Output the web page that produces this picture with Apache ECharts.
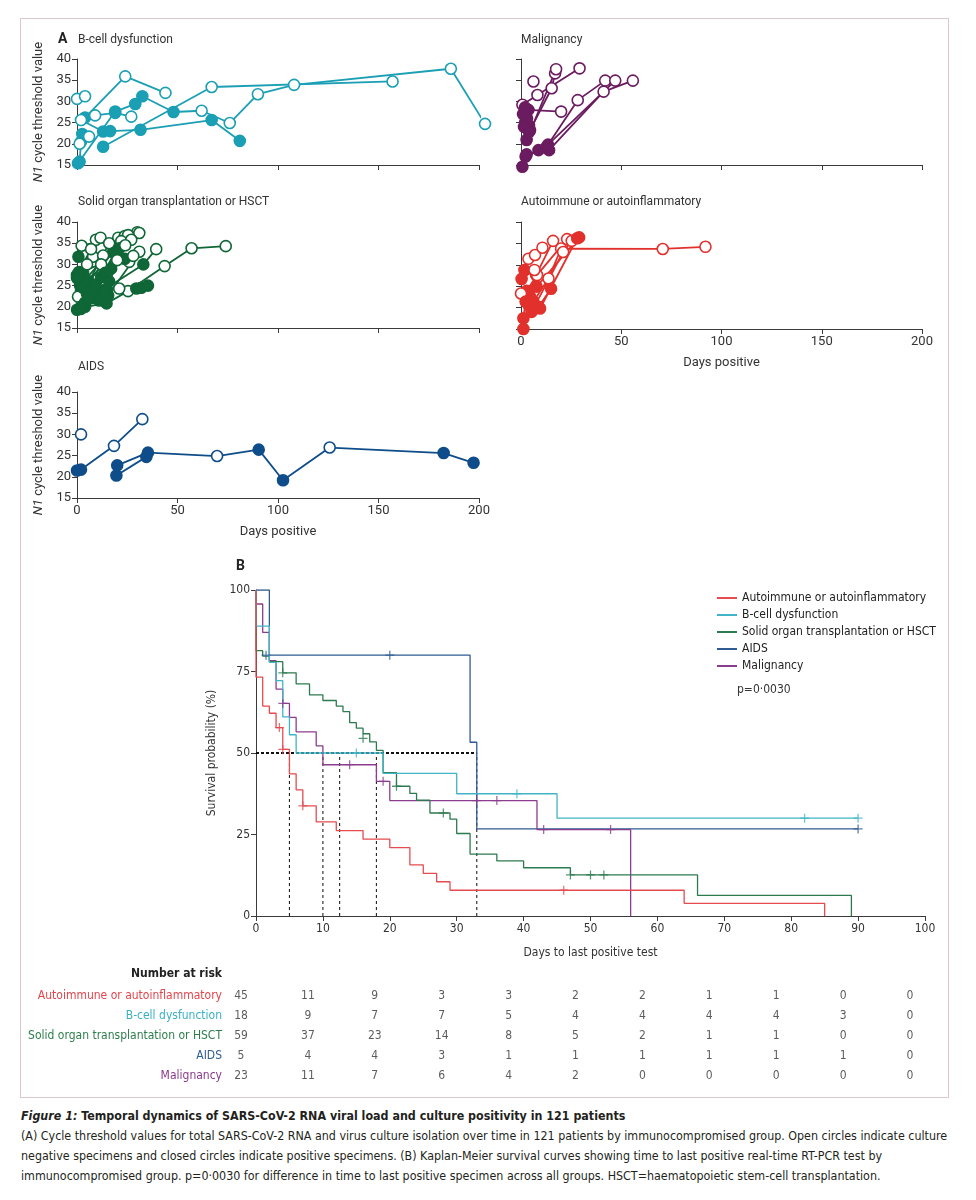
<!DOCTYPE html>
<html>
<head>
<meta charset="utf-8">
<script src="https://cdn.jsdelivr.net/npm/echarts@6/dist/echarts.min.js"></script>
<style>
  html, body { margin:0; padding:0; background:#fff; }
  #frame { position:absolute; left:20px; top:18px; width:929px; height:1080px; border:1px solid #dcc8ce; box-sizing:border-box; }
  #chart { position:absolute; left:0; top:0; width:976px; height:1100px; }
  #cap { position:absolute; left:21px; top:1106px; width:950px; color:#231f20;
         font-family:'Liberation Sans Narrow','DejaVu Sans Condensed','Noto Sans',sans-serif; font-size:15px; line-height:20px; white-space:nowrap; }
  #cap .t { font-weight:bold; }
</style>
</head>
<body>
<div id="frame"></div>
<div id="chart"></div>
<div id="cap">
  <div class="t"><i>Figure 1:</i> Temporal dynamics of SARS-CoV-2 RNA viral load and culture positivity in 121 patients</div>
  <div id="l1">(A) Cycle threshold values for total SARS-CoV-2 RNA and virus culture isolation over time in 121 patients by immunocompromised group. Open circles indicate culture</div>
  <div>negative specimens and closed circles indicate positive specimens. (B) Kaplan-Meier survival curves showing time to last positive real-time RT-PCR test by</div>
  <div>immunocompromised group. p=0·0030 for difference in time to last positive specimen across all groups. HSCT=haematopoietic stem-cell transplantation.</div>
</div>
<script>
// ---------- Panel A data: each patient = list of [day, N1 Ct, culturePositive(1)/negative(0)] ----------
const bcellPatients = [
  [[0,30.6,0]],
  [[4,31.2,0]],
  [[4,26.2,1],[24,35.9,0],[44,32.0,0]],
  [[9,26.7,0],[19,27.3,1],[27,26.4,0]],
  [[2,25.6,0],[13,22.9,1],[16.5,23.0,1],[31.6,23.3,1],[67,25.6,1],[81,20.7,1]],
  [[0.5,15.4,1],[19,27.6,1],[29,29.4,1],[32.5,31.2,1],[48,27.5,1],[62,27.8,0],[76,24.9,0],[90,31.7,0],[108,33.9,0],[186,37.7,0],[203,24.7,0]],
  [[13,19.3,1],[67,33.4,0],[157,34.7,0]],
  [[1.3,15.8,1],[2,20.5,1],[2.6,22.3,1],[6,21.7,0]],
  [[1.3,20.0,0]]
];
const malignancyPatients = [
  [[0.7,29.2,0],[8.2,31.5,0],[29.2,37.8,0]],
  [[3.7,28.0,1],[20,27.6,0]],
  [[4.5,23.2,1],[15.3,33.1,0],[17,36.6,0]],
  [[6.2,34.7,0]],
  [[2.3,17.0,1],[8.7,18.5,1],[12.8,19.3,1],[28.3,30.3,0],[42,34.9,0]],
  [[0.7,14.6,1],[2.8,17.5,1],[14,18.5,1],[41.2,32.3,0],[55.8,34.9,0]],
  [[13.5,19.8,1],[47,34.9,0]],
  [[2.8,20.9,1],[17.5,37.6,0]],
  [[1,27.0,1],[2,25.0,1]],
  [[3,26.0,1],[4,24.2,1]],
  [[1.5,24.0,1],[4,22.8,1]],
  [[2,28.6,1]]
];
const sotPatients = [
  [[0,19.3,1],[4,20.0,1],[14.7,20.8,1],[25.4,23.7,0],[43.6,29.6,0],[57,33.8,0],[74,34.3,0]],
  [[21,24.3,0],[29.5,24.3,1],[32,24.5,1],[35.3,25.0,1]],
  [[13,23.9,1],[33,30.0,1],[39.4,33.6,0]],
  [[15.5,22.7,1],[31,33.0,0]],
  [[0.7,31.8,1],[2.3,34.4,0],[20.5,36.3,0]],
  [[0,27.5,1],[9.4,35.8,0]],
  [[1,26.3,1],[11.7,36.3,0]],
  [[1.5,25.1,1],[23.8,36.7,0],[30,37.6,0]],
  [[2,23.9,1],[20,34.0,1],[31,37.4,0]],
  [[5,25.5,1],[18,33.0,1],[26,30.6,0]],
  [[3,28.0,1],[8,31.8,0]],
  [[6,26.0,1],[16,35.0,0],[25.4,36.9,0]],
  [[0.5,22.4,0],[7,33.6,0]],
  [[10,24.0,1],[13,32.1,0]],
  [[4,21.0,1],[19,32.5,1],[23.8,31.3,1]],
  [[2,20.0,1],[12,27.0,1],[22,35.5,0]],
  [[7,22.0,1],[17,29.0,1],[28,32.0,0]],
  [[1,28.2,1],[12,30.0,0]],
  [[9,25.0,1],[21,33.8,1],[27,35.8,0]],
  [[3,24.5,1],[14,28.0,1],[24,34.5,0]],
  [[0,26.8,1],[5,30.0,0]],
  [[11,21.5,1],[16,26.0,1]],
  [[5,23.0,1],[15,24.0,1],[20,31.0,0]],
  [[8,23.5,1],[14,23.2,1]],
  [[2,19.5,1],[6,22.0,1]]
];
const autoimmunePatients = [
  [[1.7,28.8,1],[3.7,31.4,0],[7,32.3,0],[10.7,34.0,0]],
  [[4.5,22.6,1],[7.5,27.6,0],[16,35.6,0]],
  [[6.2,21.4,1],[13.7,26.8,0],[20,33.8,0],[70.7,33.7,0],[92,34.2,0]],
  [[8.7,20.2,1],[15,24.4,1]],
  [[2.8,23.9,1],[8,27.6,0],[23,36.0,0]],
  [[5.3,19.0,1],[21,33.0,0],[25.3,35.6,0]],
  [[3.7,20.6,1],[7.8,24.9,1],[29,36.4,1]],
  [[0,23.3,0]],
  [[0.3,26.7,1],[6.7,28.8,0]],
  [[1.2,17.5,1],[2.3,21.4,1]],
  [[1.2,15.0,1]],
  [[9.5,19.8,1],[28,36.2,1]]
];
const aidsPatients = [
  [[2,30.0,0]],
  [[0,21.5,1],[2,21.7,1],[18.4,27.3,0],[32.5,33.6,0]],
  [[19.6,20.3,1],[34.5,24.7,1]],
  [[20,22.7,1],[35.3,25.7,1],[69.7,24.9,0],[90.4,26.4,1],[102.5,19.2,1],[125.7,26.9,0],[182.4,25.6,1],[197.3,23.3,1]]
];

// ---------- Panel B data: Kaplan-Meier steps [day, survival %] and censor marks ----------
const kmAutoimmune = [[0,100],[0,73.3],[1,64.4],[2,62.2],[3,57.8],[4,51.1],[5,43.6],[6,38.7],[7,33.8],[9,28.9],[12,26.2],[16,23.6],[20,21.0],[23,15.7],[25,13.1],[27,10.5],[29,7.9],[64,3.9],[85,0]];
const kmBcell = [[0,100],[0,88.9],[2,77.8],[3,72.2],[4,61.1],[5,55.6],[6,50],[19,43.75],[30,37.5],[45,30],[90,30]];
const kmSOT = [[0,100],[0,81.4],[1,79.7],[2,78.0],[4,74.6],[6,71.2],[8,67.8],[10,66.1],[12,64.4],[13,62.7],[14,59.3],[15,57.6],[16,55.9],[17,53.4],[18,50.8],[19,44.0],[21,39.8],[23,37.6],[24,35.5],[26,31.6],[29,29.7],[30,25.3],[32,19.0],[36,16.9],[40,14.8],[47,12.6],[66,6.3],[89,0]];
const kmAIDS = [[0,100],[2,80],[32,53.3],[33,26.7],[90,26.7]];
const kmMalignancy = [[0,100],[0,95.7],[1,87.0],[2,78.3],[3,69.6],[4,65.2],[5,60.9],[6,56.5],[9,52.2],[10,46.4],[18,41.3],[20,35.4],[42,26.5],[56,26.5],[56,0]];

const censAutoimmune = [[3.5,57.8],[4,51.1],[7,33.8],[46,7.9]];
const censBcell = [[15,50],[39,37.5],[82,30],[90,30]];
const censSOT = [[4,74.6],[16,54.5],[21,39.8],[28,31.6],[47,12.6],[50,12.6],[52,12.6]];
const censAIDS = [[1.5,80],[20,80],[90,26.7]];
const censMalignancy = [[4,65.2],[14,46.4],[19,41.3],[33,35.4],[36,35.4],[43,26.5],[53,26.5]];

const medianDays = [5, 10, 12.5, 18, 33];

// ---------- Number at risk ----------
const riskTimes = [0,10,20,30,40,50,60,70,80,90,100];
const riskAutoimmune = [45,11,9,3,3,2,2,1,1,0,0];
const riskBcell = [18,9,7,7,5,4,4,4,4,3,0];
const riskSOT = [59,37,23,14,8,5,2,1,1,0,0];
const riskAIDS = [5,4,4,3,1,1,1,1,1,1,0];
const riskMalignancy = [23,11,7,6,4,2,0,0,0,0,0];

const groupNames = ['Autoimmune or autoinflammatory','B-cell dysfunction','Solid organ transplantation or HSCT','AIDS','Malignancy'];
const panelTicks = { xMin:0, xMax:200, xInterval:50, yMin:15, yMax:40, yInterval:5 };

// ---------- styling ----------
const FA = 'Roboto, "Noto Sans", sans-serif';
const FN = '"Liberation Sans Narrow", "DejaVu Sans Condensed", "Noto Sans", sans-serif';
const FNS = 12;
const TXT = '#333';
const ptColors = { bcell:'#1a9fb4', malig:'#6b1b5f', sot:'#0f6636', auto:'#e2312c', aids:'#0f4d8a' };
const kmColors = ['#e64b50','#41b5c7','#2c7a50','#2f5b92','#8c3c8e'];
const riskColors = ['#e2454b','#3ab0c3','#2e7d4c','#2f5d94','#8a3a8a'];

const panels = [
  { title:'B-cell dysfunction', patients:bcellPatients, color:ptColors.bcell, grid:{left:77, top:59, width:402, height:106}, yLabels:true, xLabels:false, tl:[78,34] },
  { title:'Malignancy', patients:malignancyPatients, color:ptColors.malig, grid:{left:521, top:59, width:401, height:106}, yLabels:false, xLabels:false, tl:[521,34] },
  { title:'Solid organ transplantation or HSCT', patients:sotPatients, color:ptColors.sot, grid:{left:77, top:222, width:402, height:106}, yLabels:true, xLabels:false, tl:[78,196] },
  { title:'Autoimmune or autoinflammatory', patients:autoimmunePatients, color:ptColors.auto, grid:{left:521, top:222, width:401, height:107}, yLabels:false, xLabels:true, tl:[521,196] },
  { title:'AIDS', patients:aidsPatients, color:ptColors.aids, grid:{left:77, top:392, width:402, height:106}, yLabels:true, xLabels:true, tl:[78,361] }
];

const grids = [], xAxes = [], yAxes = [], series = [], titles = [];
const axisLineStyle = { color:'#3a3a3a', width:1 };

panels.forEach((p, i) => {
  grids.push(Object.assign({ containLabel:false }, p.grid));
  xAxes.push({
    gridIndex:i, type:'value', min:panelTicks.xMin, max:panelTicks.xMax, interval:panelTicks.xInterval,
    axisLine:{ show:true, onZero:false, lineStyle:axisLineStyle }, axisTick:{ show:true, length:5, lineStyle:axisLineStyle },
    axisLabel:{ show:p.xLabels, fontFamily:FA, fontSize:13, color:TXT, margin:6 }, splitLine:{ show:false },
    name: p.xLabels ? 'Days positive' : '', nameLocation:'middle', nameGap:27,
    nameTextStyle:{ fontFamily:FA, fontSize:13, color:TXT }
  });
  yAxes.push({
    gridIndex:i, type:'value', min:panelTicks.yMin, max:panelTicks.yMax, interval:panelTicks.yInterval,
    axisLine:{ show:true, onZero:false, lineStyle:axisLineStyle }, axisTick:{ show:true, length:5, lineStyle:axisLineStyle },
    axisLabel:{ show:p.yLabels, fontFamily:FA, fontSize:13, color:TXT, margin:6 }, splitLine:{ show:false },
    name: p.yLabels ? '{i|N1} cycle threshold value' : '', nameLocation:'middle', nameGap:32,
    nameTextStyle:{ fontFamily:FA, fontSize:13, color:TXT, rich:{ i:{ fontFamily:FA, fontSize:13, color:TXT, fontStyle:'italic' } } }
  });
  titles.push({ text:p.title, left:p.tl[0], top:p.tl[1], padding:0, textStyle:{ fontFamily:FA, fontSize:12, fontWeight:'normal', color:TXT } });
  p.patients.forEach((pts, k) => {
    series.push({
      name:'ct-' + i + '-' + k, type:'line', xAxisIndex:i, yAxisIndex:i, clip:false, animation:false,
      symbol:'circle', symbolSize:11, showAllSymbol:true, silent:true,
      lineStyle:{ color:p.color, width:1.8 },
      data: pts.map(q => ({ value:[q[0], q[1]], itemStyle:{ color: q[2] ? p.color : '#ffffff', borderColor:p.color, borderWidth:1.6, opacity:1 } })),
      z: 3
    });
  });
});

// KM grid
const KM = panels.length;
grids.push({ left:256, top:590, width:669, height:326 });
xAxes.push({
  gridIndex:KM, type:'value', min:0, max:100, interval:10,
  axisLine:{ show:true, onZero:false, lineStyle:axisLineStyle }, axisTick:{ show:true, length:5, lineStyle:axisLineStyle },
  axisLabel:{ fontFamily:FN, fontSize:FNS, color:TXT, margin:7 }, splitLine:{ show:false },
  name:'Days to last positive test', nameLocation:'middle', nameGap:31, nameTextStyle:{ fontFamily:FN, fontSize:FNS, color:TXT }
});
yAxes.push({
  gridIndex:KM, type:'value', min:0, max:100, interval:25,
  axisLine:{ show:true, onZero:false, lineStyle:axisLineStyle }, axisTick:{ show:true, length:5, lineStyle:axisLineStyle },
  axisLabel:{ fontFamily:FN, fontSize:FNS, color:TXT, margin:6 }, splitLine:{ show:false },
  name:'Survival probability (%)', nameLocation:'middle', nameGap:38, nameTextStyle:{ fontFamily:FN, fontSize:FNS, color:TXT }
});
const kmData = [kmAutoimmune, kmBcell, kmSOT, kmAIDS, kmMalignancy];
const censData = [censAutoimmune, censBcell, censSOT, censAIDS, censMalignancy];
medianDays.forEach((d, k) => {
  series.push({ name:'median-' + k, type:'line', xAxisIndex:KM, yAxisIndex:KM, symbol:'none', silent:true, animation:false,
    lineStyle:{ color:'#222', width:1.1, type:[3,3] }, data:[[d,0],[d,50]], z:2 });
});
series.push({ name:'median-h', type:'line', xAxisIndex:KM, yAxisIndex:KM, symbol:'none', silent:true, animation:false,
  lineStyle:{ color:'#111', width:1.8, type:[3,2] }, data:[[0,50],[Math.max(...medianDays),50]], z:2 });
const order = [3,4,2,1,0];
order.forEach(g => {
  series.push({ name:groupNames[g], type:'line', step:'end', xAxisIndex:KM, yAxisIndex:KM, symbol:'none', animation:false,
    lineStyle:{ color:kmColors[g], width:1.3 }, itemStyle:{ color:kmColors[g] }, data:kmData[g], z:4 });
});
const plusPath = 'path://M4.3,0H5.7V4.3H10V5.7H5.7V10H4.3V5.7H0V4.3H4.3Z';
order.forEach(g => {
  series.push({ name:'cens-' + g, type:'scatter', xAxisIndex:KM, yAxisIndex:KM, symbol:plusPath, symbolSize:9, silent:true, animation:false,
    itemStyle:{ color:kmColors[g] }, data:censData[g], z:5 });
});

// Risk table grid
const RT = KM + 1;
const riskRows = [riskAutoimmune, riskBcell, riskSOT, riskAIDS, riskMalignancy];
grids.push({ left:241, top:986, width:669, height:100 });
xAxes.push({ gridIndex:RT, type:'value', min:0, max:100, show:false });
yAxes.push({ gridIndex:RT, type:'category', data:groupNames, inverse:true,
  axisLine:{ show:false }, axisTick:{ show:false }, splitLine:{ show:false },
  axisLabel:{ fontFamily:FN, fontSize:FNS, margin:19, color:(v, idx) => riskColors[groupNames.indexOf(v)] } });
const riskData = [];
riskRows.forEach((row, r) => row.forEach((v, i) => riskData.push([riskTimes[i], groupNames[r], v])));
series.push({ name:'risk', type:'scatter', xAxisIndex:RT, yAxisIndex:RT, symbolSize:1, silent:true, animation:false,
  itemStyle:{ color:'rgba(0,0,0,0)' }, data:riskData,
  label:{ show:true, position:'inside', formatter:p => String(p.data[2]), fontFamily:FN, fontSize:FNS, color:TXT } });

titles.push({ text:'A', left:58, top:32, padding:0, textStyle:{ fontFamily:FA, fontSize:14, fontWeight:'bold', color:'#222' } });
titles.push({ text:'B', left:236, top:559, padding:0, textStyle:{ fontFamily:FA, fontSize:14, fontWeight:'bold', color:'#222' } });
titles.push({ text:'p=0·0030', left:737, top:684, padding:0, textStyle:{ fontFamily:FN, fontSize:FNS, fontWeight:'normal', color:TXT } });
titles.push({ text:'Number at risk', right:754, top:968, padding:0, textStyle:{ fontFamily:FN, fontSize:FNS, fontWeight:'bold', color:'#222' } });

const chart = echarts.init(document.getElementById('chart'), null, { renderer:'canvas' });
chart.setOption({
  animation:false,
  title:titles,
  grid:grids, xAxis:xAxes, yAxis:yAxes,
  legend:{ data:groupNames, left:712, top:586, orient:'vertical', icon:'rect', itemWidth:20, itemHeight:2, itemGap:3,
    selectedMode:false, textStyle:{ fontFamily:FN, fontSize:FNS, color:'#222', lineHeight:14 } },
  series:series
});

// fit caption width to the printed measure (first body line ~926px wide)
(function(){
  const l1 = document.getElementById('l1');
  const cap = document.getElementById('cap');
  const span = document.createElement('span'); span.textContent = l1.textContent; span.style.whiteSpace='nowrap';
  l1.textContent=''; l1.appendChild(span);
  const sw = span.getBoundingClientRect().width;
  if (sw > 0) { const fs = 15 * 926 / sw; cap.style.fontSize = fs.toFixed(2) + 'px'; }
})();
</script>
</body>
</html>
